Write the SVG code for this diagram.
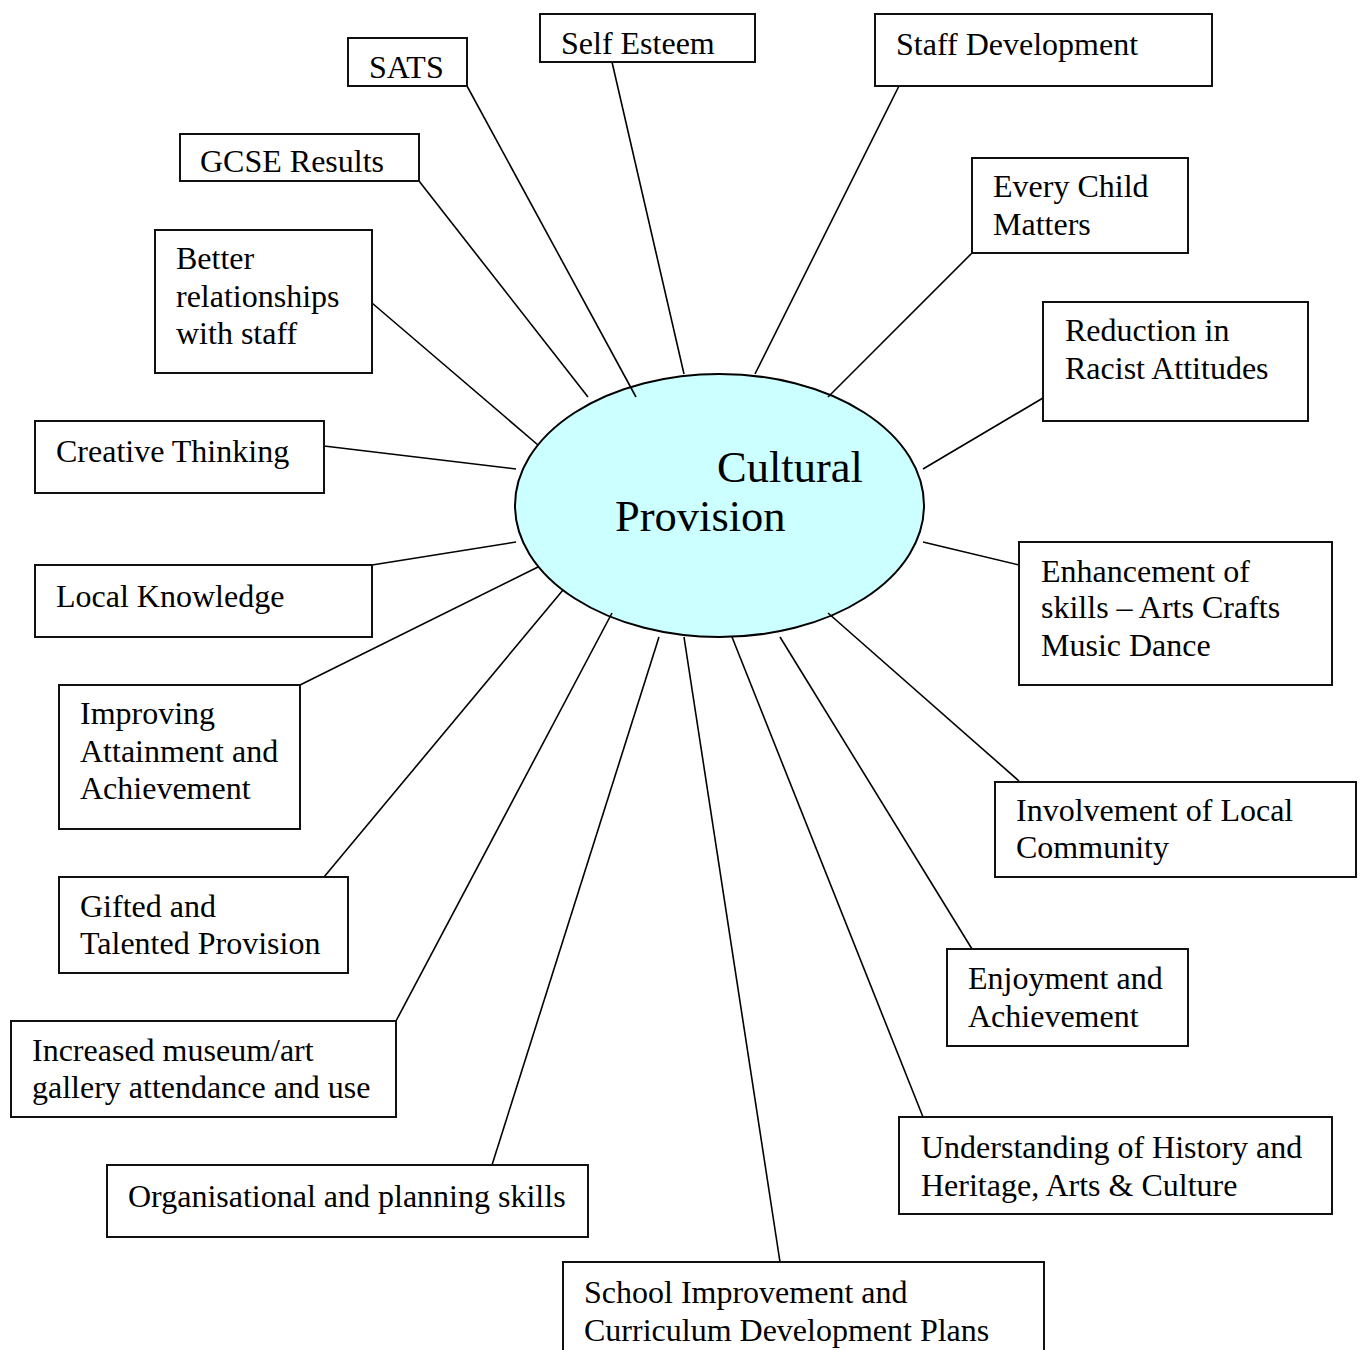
<svg xmlns="http://www.w3.org/2000/svg" width="1362" height="1350" viewBox="0 0 1362 1350">
<style>
.box{fill:#fff;stroke:#111;stroke-width:2}
.t{font-family:"Liberation Serif","Times New Roman",serif;font-size:32px;fill:#000}
.c{stroke:#000;stroke-width:1.6;fill:none}
.hub{fill:#ccffff;stroke:#000;stroke-width:2}
.ht{font-family:"Liberation Serif","Times New Roman",serif;font-size:44.5px;fill:#000}
</style>
<defs>
<clipPath id="cSats"><rect x="348" y="38" width="119" height="40"/></clipPath>
<clipPath id="cSelf"><rect x="540" y="14" width="215" height="40"/></clipPath>
<clipPath id="cGcse"><rect x="180" y="134" width="239" height="39"/></clipPath>
</defs>
<rect width="1362" height="1350" fill="#fff"/>
<g id="hub">
<ellipse class="hub" cx="719.5" cy="505.5" rx="204.5" ry="131.5"/>
<text class="ht" x="717" y="482">Cultural</text>
<text class="ht" x="615" y="531">Provision</text>
</g>
<g id="connectors">
<line class="c" x1="467" y1="86" x2="636" y2="397"/>
<line class="c" x1="612" y1="62" x2="684" y2="374"/>
<line class="c" x1="419" y1="181" x2="588" y2="397"/>
<line class="c" x1="899" y1="86" x2="755" y2="374"/>
<line class="c" x1="972" y1="253" x2="828" y2="397"/>
<line class="c" x1="372" y1="303" x2="538" y2="445"/>
<line class="c" x1="1043" y1="398" x2="923" y2="469"/>
<line class="c" x1="324" y1="446" x2="516" y2="469"/>
<line class="c" x1="372" y1="565" x2="516" y2="542"/>
<line class="c" x1="1019" y1="565" x2="923" y2="542"/>
<line class="c" x1="300" y1="685" x2="538" y2="567"/>
<line class="c" x1="324" y1="877" x2="563" y2="590"/>
<line class="c" x1="1019" y1="781" x2="828" y2="613"/>
<line class="c" x1="396" y1="1021" x2="612" y2="613"/>
<line class="c" x1="972" y1="949" x2="780" y2="637"/>
<line class="c" x1="492" y1="1165" x2="659" y2="637"/>
<line class="c" x1="923" y1="1117" x2="732" y2="637"/>
<line class="c" x1="780" y1="1262" x2="684" y2="637"/>
</g>
<g id="sats">
<rect class="box" x="348" y="38" width="119" height="48"/>
<text class="t" x="369" y="78" clip-path="url(#cSats)">SATS</text>
</g>
<g id="self-esteem">
<rect class="box" x="540" y="14" width="215" height="48"/>
<text class="t" x="561" y="54" clip-path="url(#cSelf)">Self Esteem</text>
</g>
<g id="gcse">
<rect class="box" x="180" y="134" width="239" height="47"/>
<text class="t" x="200" y="172" clip-path="url(#cGcse)">GCSE Results</text>
</g>
<g id="staff-development">
<rect class="box" x="875" y="14" width="337" height="72"/>
<text class="t" x="896" y="55">Staff Development</text>
</g>
<g id="every-child">
<rect class="box" x="972" y="158" width="216" height="95"/>
<text class="t" x="993" y="197">Every Child</text>
<text class="t" x="993" y="235">Matters</text>
</g>
<g id="reduction">
<rect class="box" x="1043" y="302" width="265" height="119"/>
<text class="t" x="1065" y="341">Reduction in</text>
<text class="t" x="1065" y="379">Racist Attitudes</text>
</g>
<g id="better-relationships">
<rect class="box" x="155" y="230" width="217" height="143"/>
<text class="t" x="176" y="269">Better</text>
<text class="t" x="176" y="307">relationships</text>
<text class="t" x="176" y="344">with staff</text>
</g>
<g id="creative-thinking">
<rect class="box" x="35" y="421" width="289" height="72"/>
<text class="t" x="56" y="462">Creative Thinking</text>
</g>
<g id="local-knowledge">
<rect class="box" x="35" y="565" width="337" height="72"/>
<text class="t" x="56" y="607">Local Knowledge</text>
</g>
<g id="enhancement">
<rect class="box" x="1019" y="542" width="313" height="143"/>
<text class="t" x="1041" y="582">Enhancement of</text>
<text class="t" x="1041" y="618">skills – Arts Crafts</text>
<text class="t" x="1041" y="656">Music Dance</text>
</g>
<g id="improving">
<rect class="box" x="59" y="685" width="241" height="144"/>
<text class="t" x="80" y="724">Improving</text>
<text class="t" x="80" y="762">Attainment and</text>
<text class="t" x="80" y="799">Achievement</text>
</g>
<g id="involvement">
<rect class="box" x="995" y="782" width="361" height="95"/>
<text class="t" x="1016" y="821">Involvement of Local</text>
<text class="t" x="1016" y="858">Community</text>
</g>
<g id="gifted">
<rect class="box" x="59" y="877" width="289" height="96"/>
<text class="t" x="80" y="917">Gifted and</text>
<text class="t" x="80" y="954">Talented Provision</text>
</g>
<g id="enjoyment">
<rect class="box" x="947" y="949" width="241" height="97"/>
<text class="t" x="968" y="989">Enjoyment and</text>
<text class="t" x="968" y="1027">Achievement</text>
</g>
<g id="increased">
<rect class="box" x="11" y="1021" width="385" height="96"/>
<text class="t" x="32" y="1061">Increased museum/art</text>
<text class="t" x="32" y="1098">gallery attendance and use</text>
</g>
<g id="understanding">
<rect class="box" x="899" y="1117" width="433" height="97"/>
<text class="t" x="921" y="1158">Understanding of History and</text>
<text class="t" x="921" y="1196">Heritage, Arts &amp; Culture</text>
</g>
<g id="organisational">
<rect class="box" x="107" y="1165" width="481" height="72"/>
<text class="t" x="128" y="1207">Organisational and planning skills</text>
</g>
<g id="school-improvement">
<rect class="box" x="563" y="1262" width="481" height="110"/>
<text class="t" x="584" y="1303">School Improvement and</text>
<text class="t" x="584" y="1341">Curriculum Development Plans</text>
</g>
</svg>
